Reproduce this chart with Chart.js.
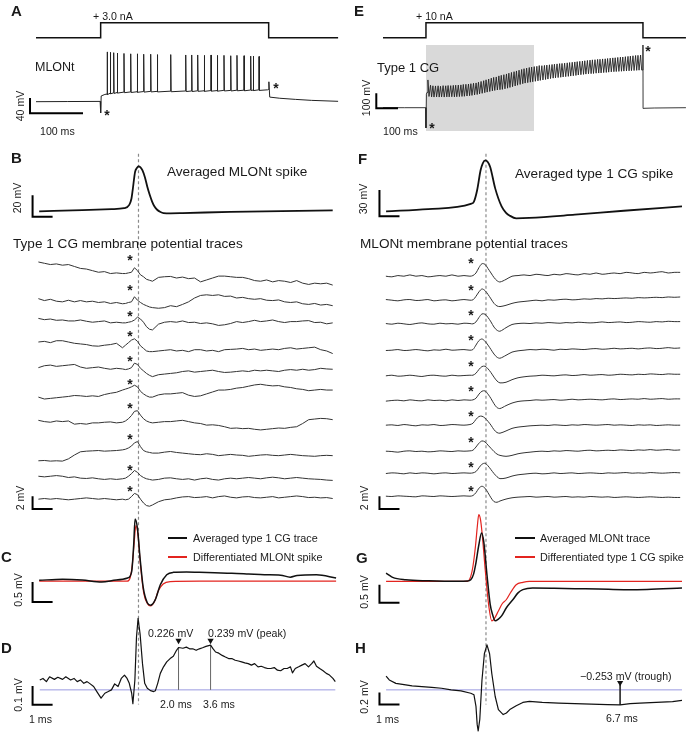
<!DOCTYPE html>
<html><head><meta charset="utf-8">
<script src="https://cdn.jsdelivr.net/npm/chart.js@4.4.1/dist/chart.umd.min.js"></script>
<style>
html,body{margin:0;padding:0;background:#fff;}
#fig{position:relative;width:686px;height:736px;overflow:hidden;font-family:"Liberation Sans",Arial,Helvetica,sans-serif;color:#1a1a1a;}
#fig canvas{position:absolute;}
.t{position:absolute;white-space:nowrap;line-height:1;}
.sw{position:absolute;height:2px;}
</style></head><body><div id="fig">
<canvas id="cA"></canvas><canvas id="cE"></canvas><canvas id="cL"></canvas><canvas id="cR"></canvas>
</div>
<script>
// ===================== DATA =====================
// Panel A: current step (ms, nA) and MLONt membrane potential (ms, mV)
const aStimT = [0, 122, 122, 439, 439, 570];
const aStimI = [0, 0, 3, 3, 0, 0];
const aPreT = [0, 60, 121, 122, 123, 130, 134];
const aPreV = [-65, -64.6, -64.2, -94.5, -50, -46, -45];
const aSpikeT = [134.5, 140.2, 146.6, 153.4, 166, 178.7, 191.1, 203.2, 216.4, 228.9, 254.2, 282.5, 293.8, 305.1, 317.5, 330.2, 342.1, 354.7, 367.4, 379.2, 392.5, 405.1, 410, 420.8];
const aSpikePeak = [65, 64, 63, 62, 61, 60, 60, 59, 59, 58, 58, 57, 57, 57, 56, 57, 56, 56, 55, 56, 55, 54, 54, 53];
const aSpikeBase = [-45, -43, -42, -41, -40, -39.5, -39, -38.5, -38, -38, -37.5, -37, -37, -36.5, -36.5, -36, -36, -35.5, -35.5, -35, -35, -34.5, -34.5, -34];
const aPostT = [437, 439, 439.4, 441, 460, 490, 520, 570];
const aPostV = [-34, -33, -13, -53, -56, -59, -61.5, -64];

// Panel E: current step (ms, nA) and type 1 CG membrane potential (ms, mV)
const eStimT = [0, 198, 198, 1198, 1198, 1396];
const eStimI = [0, 0, 10, 10, 0, 0];
const eShadeT = [198, 696];
const ePreT = [0, 100, 197, 198, 200, 203];
const ePreV = [-60, -60, -60, -195, 30, 42];
const eSpikeT = [207,219,230,242,254,265,277,289,300,312,324,335,347,359,370,382,394,405,417,429,440,452,464,475,487,499,510,522,534,545,557,569,580,592,604,615,627,639,650,662,674,685,697,709,720,732,744,755,767,779,790,802,814,825,837,849,860,872,884,895,907,919,930,942,954,965,977,989,1000,1012,1024,1035,1047,1059,1070,1082,1094,1105,1117,1129,1140,1152,1164,1175,1187];
const ePeak = [125,90,86,85,86,83,87,86,88,87,89,90,91,92,95,96,98,100,103,105,110,115,120,126,131,137,142,145,152,156,160,165,170,175,180,185,190,195,200,204,208,211,214,216,221,220,222,224,226,228,230,232,234,235,237,239,241,243,245,247,249,251,253,255,257,259,260,262,263,265,266,268,270,272,273,275,277,278,280,282,284,286,288,289,291];
const eBase = [15,12,11,12,11,12,11,12,12,13,12,13,14,15,16,18,20,22,25,28,32,36,40,44,48,52,55,58,60,62,66,70,75,80,85,90,95,100,104,107,110,113,116,119,122,125,128,131,134,137,139,141,143,145,147,149,151,153,155,158,160,162,164,166,167,168,170,171,172,174,175,177,179,180,181,182,183,184,185,186,187,188,189,190,191];
const ePostT = [1195, 1198, 1198.5, 1202, 1250, 1396];
const ePostV = [191, 358, -65, -64, -62, -60];

// Panel B: averaged MLONt spike (ms from spike, mV)
const bT = [-4.96, -2.8, -1.35, -0.72, -0.46, -0.35, -0.29, -0.17, -0.08, 0, 0.1, 0.2, 0.32, 0.44, 0.56, 0.68, 0.8, 0.93, 1.1, 1.25, 1.6, 2.2, 4.6, 9.7];
const bV = [-60, -58.8, -57.9, -57.0, -53.9, -48, -40.1, -23.1, -19.5, -18.0, -18.8, -21.6, -28, -37, -44.5, -50.8, -55.5, -58.5, -60.6, -61.6, -61.8, -61.6, -60.4, -59.1];

// Panel F: averaged type 1 CG spike
const fT = [-4.99, -2.89, -0.76, -0.6, -0.44, -0.27, -0.16, -0.03, 0.08, 0.21, 0.46, 0.78, 0.99, 1.19, 1.51, 2.17, 4.44, 6.88, 9.79];
const fV = [-60, -57.4, -51.5, -48.8, -35.7, -13.2, -5.2, -2.0, -3.5, -9.4, -33.8, -54.4, -61.3, -64.9, -67.9, -67.5, -63.8, -59.3, -54.4];

// Single-sweep traces (ms from spike; mV relative to each trace's baseline)
const traceT = [-5.0,-4.7,-4.4,-4.1,-3.8,-3.5,-3.2,-2.9,-2.6,-2.3,-2.0,-1.7,-1.4,-1.1,-0.8,-0.65,-0.5,-0.35,-0.2,-0.05,0.1,0.25,0.4,0.55,0.7,1.0,1.3,1.6,1.9,2.2,2.5,2.8,3.1,3.4,3.7,4.0,4.3,4.6,4.9,5.2,5.5,5.8,6.1,6.4,6.7,7.0,7.3,7.6,7.9,8.2,8.5,8.8,9.1,9.4,9.7];
// Type 1 CG membrane potential traces (left)
const cgTrace1 = [1.6,1.4,1.2,1.3,1.1,1.2,0.9,0.6,0.5,0.25,0,0.1,-0.2,-0.1,-0.2, -0.2,-0.1,0,0.7,0.25,-0.4,-0.7,-1.1,-1.25,-1.4, -0.8,-0.7,-0.65,-0.9,-0.75,-1.0,-0.9,-1.5,-1.2,-0.9,-0.6,-0.6,-0.7,-0.8,-0.8,-1.0,-1.3,-1.4,-1.2,-1.5,-1.3,-1.4,-1.6,-1.3,-1.7,-1.9,-1.7,-1.8,-1.7,-2.0];
const cgTrace2 = [0.5,0.2,0.4,0.1,0,0.25,0,0.2,0,0.1,-0.1,0,-0.25,-0.1,-0.3, -0.25,-0.1,0,0.8,0.25,-0.1,-0.4,-0.6,-0.8,-0.9, -1.0,-0.9,-0.6,-0.75,-0.4,0,0.6,1.0,1.1,1.0,1.1,0.85,0.9,0.6,0.7,0.5,0.4,0.5,0.25,0.2,0.3,0,-0.1,0,-0.3,-0.4,-0.25,-0.5,-0.4,-0.6];
const cgTrace3 = [0.5,0.3,0.4,0.2,0.25,0.1,0.1,0.25,0.05,-0.1,0,0.1,-0.2,-0.1,-0.2, -0.2,-0.1,0,0.25,0.7,0.4,-0.1,-0.8,-1.2,-1.3, -0.4,-0.1,0,-0.1,0.1,-0.15,-0.1,-0.3,-0.2,-0.35,-0.6,-0.5,-0.3,0,-0.15,0,0.2,0,0.1,0.25,0,-0.15,0,0,0.1,0.15,-0.15,-0.1,-0.35,-0.2];
const cgTrace4 = [0.4,0.5,0.3,0.6,0.6,0.4,0.2,0.1,0,-0.2,-0.25,-0.1,0,0.2,-0.5, -0.1,0.3,0.7,0.9,0.5,-0.2,-0.6,-1.0,-1.1,-1.1, -1.0,-0.9,-0.8,-1.0,-0.9,-1.1,-0.8,-0.8,-1.0,-0.9,-1.1,-0.8,-0.75,-0.7,-0.6,-0.8,-0.7,-0.9,-0.8,-0.7,-0.8,-0.6,-0.5,-0.7,-0.6,-0.5,-0.4,-0.8,-1.0,-1.4];
const cgTrace5 = [0,0.3,0.4,0.2,0.3,0.4,0.5,0.1,-0.1,0,0.1,-0.1,-0.25,-0.1,-0.2, -0.3,-0.2,0,0.7,0.5,-0.1,-0.5,-0.9,-1.2,-1.4, -1.1,-1.0,-0.9,-0.8,-0.6,-0.5,-0.7,-0.6,-0.5,-0.4,-0.6,-0.75,-0.7,-0.6,-0.5,-0.6,-0.4,-0.5,-0.4,-0.5,-0.6,-0.4,-0.3,-0.4,-0.25,-0.4,-0.3,-0.1,-0.2,-0.25];
const cgTrace6 = [-0.5,-0.8,-0.7,-0.6,-0.5,-0.4,-0.25,-0.3,-0.4,-0.3,-0.4,-0.1,0.1,0.25,0.6, 0.75,0.9,1.1,1.35,1.1,0.4,0,-0.3,-0.5,-0.5, -0.15,0,0,0.1,0.2,-0.2,-0.4,-0.3,0,0.3,0.6,0.6,0.7,0.9,1.0,1.2,1.4,1.5,1.35,1.25,1.3,1.1,1.0,0.8,0.7,0.5,0.6,0.7,0.6,0.6];
const cgTrace7 = [0.25,0.05,-0.05,0.15,0.05,0.15,-0.35,-0.25,-0.35,-0.15,-0.15,-0.05,0,-0.15,-0.05, 0.15,0.5,1.0,1.65,1.75,1.05,0.5,0.15,-0.05,-0.15, -0.05,0.05,0.05,0.15,0.25,0.05,-0.15,-0.25,-0.5,-0.45,-0.55,-0.75,-1.0,-0.95,-1.05,-1.0,-1.15,-1.25,-1.15,-1.05,-0.95,-1.0,-0.85,-0.75,-0.25,0.35,0.45,0.55,0.5,0.35];
const cgTrace8 = [-1.2,-1.15,-1.25,-1.2,-1.25,-0.9,-0.3,0.2,0.3,0.35,0.4,0.3,0.35,0.4,0.5, 0.6,0.8,1.1,1.6,1.8,1.0,0.4,0.2,0.1,0, 0,0.15,0.25,0.1,0,-0.1,-0.2,-0.25,-0.1,-0.2,-0.4,-0.3,-0.2,-0.3,-0.35,-0.5,-0.4,-0.3,-0.25,-0.35,-0.4,-0.3,-0.2,-0.3,-0.4,-0.45,-0.5,-0.4,-0.35,-0.4];
const cgTrace9 = [0.3,0.2,0.3,0.4,0.3,0.1,0.2,0,-0.05,0.05,-0.1,-0.2,-0.1,-0.2,-0.1, 0,0.3,0.7,1.2,0.9,0.4,0.1,-0.1,-0.2,-0.3, -0.2,0,0.05,-0.1,-0.2,-0.1,-0.3,-0.1,0,-0.2,-0.3,-0.1,0,-0.1,0,0.1,0,-0.1,0.05,0.15,0.05,-0.1,0,0.1,0,-0.1,-0.15,-0.2,-0.3,-0.35];
const cgTrace10 = [0,0.1,0,0.1,0,-0.1,0,0.1,0.2,0.1,0,0.1,0,-0.1,0, -0.1,0,0.4,0.9,0.7,0,-0.6,-1.0,-1.1,-0.9, -0.4,-0.1,0,0.2,0.35,0.4,0.25,0.3,0.4,0.2,0.4,0.5,0.3,0.2,0.35,0.4,0.25,0.2,0.3,0.4,0.2,0.3,0.4,0.5,0.4,0.25,0.3,0.2,0.25,0.1];
// MLONt membrane potential traces (right)
const mlTrace1 = [0,-0.1,0.1,0,0.2,0,0.1,-0.1,0,0.1,0,0.2,0,0.1,0, 0.1,0.5,1.35,1.95,1.85,1.2,0.5,-0.2,-0.7,-0.9, -0.5,0,0.1,0.2,0.1,0.3,0.2,0.1,0.3,0.2,0.4,0.3,0.2,0.4,0.3,0.5,0.3,0.4,0.5,0.4,0.6,0.5,0.4,0.6,0.5,0.6,0.7,0.5,0.6,0.6];
const mlTrace2 = [0.1,0,-0.1,0.05,0.1,-0.05,0,0.1,-0.1,0,0.05,-0.1,0,0.1,0, 0.05,0.6,1.3,1.75,1.5,0.9,0.2,-0.5,-0.9,-1.0, -0.8,-0.5,-0.3,-0.2,-0.1,0,-0.1,0.05,0,0.1,0.15,0.05,0.1,0.2,0.15,0.25,0.2,0.3,0.25,0.3,0.35,0.3,0.4,0.35,0.4,0.45,0.4,0.5,0.45,0.5];
const mlTrace3 = [0.05,-0.05,0.1,0,-0.1,0.05,0.15,0,-0.05,0.1,0,0.05,-0.05,0.1,0.05, 0,0.3,1.0,1.55,1.5,1.0,0.3,-0.5,-1.0,-1.15, -0.6,-0.1,0.05,0.1,0.05,0.15,0.1,0.2,0.15,0.1,0.2,0.15,0.25,0.2,0.15,0.2,0.3,0.2,0.25,0.3,0.2,0.25,0.35,0.3,0.25,0.35,0.3,0.4,0.35,0.35];
const mlTrace4 = [-0.05,0,0.1,-0.05,0,0.1,0,-0.1,0.05,0,0.15,0,0.05,0.1,0, 0.1,0.8,1.5,1.75,1.4,0.8,0.1,-0.6,-1.1,-1.25, -0.8,-0.3,-0.1,0,0.1,0.05,0.15,0.1,0,0.15,0.1,0.2,0.15,0.1,0.2,0.25,0.15,0.2,0.3,0.2,0.25,0.3,0.2,0.3,0.35,0.25,0.3,0.4,0.3,0.35];
const mlTrace5 = [0,0.1,-0.05,0,0.1,0,-0.1,0.05,0.1,0,-0.05,0.1,0,0.05,0.1, 0.1,0.4,1.0,1.45,1.5,1.1,0.5,-0.2,-0.8,-1.1, -1.0,-0.6,-0.3,-0.15,-0.05,0,0.1,0.05,0,0.1,0.15,0.05,0.1,0.2,0.1,0.15,0.2,0.1,0.15,0.25,0.2,0.15,0.25,0.2,0.3,0.25,0.2,0.3,0.25,0.25];
const mlTrace6 = [-0.1,0,0.05,-0.05,0.1,0,-0.05,0.1,0,0.05,-0.05,0.1,0,0.1,0.05, 0.1,0.35,1.0,1.45,1.5,1.0,0.3,-0.5,-1.1,-1.25, -0.8,-0.4,-0.15,-0.05,0,0.1,0.05,0.1,0.15,0.05,0.1,0.2,0.1,0.15,0.2,0.15,0.1,0.2,0.25,0.15,0.2,0.25,0.2,0.3,0.2,0.25,0.3,0.2,0.25,0.25];
const mlTrace7 = [0,0.05,-0.05,0.1,0,-0.1,0.05,0,0.1,-0.05,0,0.1,0.05,0,0.1, 0.3,0.9,1.35,1.4,1.1,0.6,0,-0.7,-1.15,-1.25, -0.9,-0.5,-0.3,-0.2,-0.1,-0.05,0,-0.05,0.05,0,-0.05,0.05,0,0.1,0.05,0,0.05,0.1,0,0.05,0,-0.05,0.05,0,0.05,-0.05,0,0.05,0,0];
const mlTrace8 = [0.05,0,-0.1,0.05,0.1,0,0.05,-0.05,0,0.1,0.05,0,0.1,0.05,0.1, 0.2,0.7,1.3,1.65,1.5,1.0,0.5,0,-0.4,-0.6, -0.75,-0.6,-0.35,-0.2,-0.1,0,0.05,0,0.1,0.05,0.15,0.1,0.05,0.15,0.2,0.1,0.15,0.2,0.15,0.25,0.2,0.15,0.25,0.2,0.3,0.2,0.25,0.3,0.2,0.25];
const mlTrace9 = [0,0.1,0.05,-0.05,0.1,0,0.1,0.05,-0.05,0.05,0.1,0,0.05,0.1,0.05, 0.1,0.3,0.9,1.45,1.6,1.2,0.6,0,-0.5,-0.8, -0.7,-0.4,-0.2,-0.1,0,0.05,-0.05,0,0.1,0,0.05,0.1,0,0.05,0.1,0.05,0,0.1,0.05,0.1,0.15,0.05,0.1,0.05,0.15,0.1,0.05,0.1,0.15,0.1];
const mlTrace10 = [0.05,0,0.1,0.05,0,-0.05,0.1,0.05,0,0.1,0.05,0,0.05,0.1,0.05, 0.15,0.6,1.3,1.6,1.3,0.6,-0.2,-0.8,-0.9,-0.7, -0.4,-0.2,-0.1,-0.05,0,-0.1,-0.05,0,-0.1,-0.05,0,-0.1,-0.05,-0.1,0,-0.05,-0.1,-0.05,-0.15,-0.1,-0.05,-0.1,-0.15,-0.1,-0.05,-0.1,-0.15,-0.1,-0.15,-0.15];

// Panel C (ms, mV)
const cT = [-4.96,-3.79,-2.81,-1.84,-1.11,-0.54,-0.34,-0.24,-0.17,-0.05,0.08,0.24,0.44,0.6,0.84,1.09,1.41,1.74,2.4,3.04,3.8,4.66,5.5,6.29,7.1,7.58,7.92,8.89,9.87];
const cAvgCG = [0,0.03,0.01,-0.04,0.01,0.06,0.22,0.88,1.53,1.29,0.55,-0.19,-0.56,-0.62,-0.48,-0.11,0.14,0.2,0.21,0.2,0.19,0.18,0.16,0.14,0.13,0.08,0.12,0.14,0.06];
const cDiffT = [-4.96,-0.57,-0.42,-0.3,-0.2,-0.13,-0.03,0.09,0.26,0.45,0.6,0.8,0.99,1.23,1.58,3.04,9.87];
const cDiffMLONt = [-0.02,-0.02,0.06,0.43,1.04,1.37,1.16,0.43,-0.31,-0.58,-0.64,-0.53,-0.26,-0.09,-0.03,-0.02,-0.02];

// Panel D: difference trace (ms, mV)
const dT = [-4.93,-4.77,-4.6,-4.44,-4.2,-4.03,-3.79,-3.63,-3.39,-3.22,-3.06,-2.9,-2.73,-2.57,-2.41,-2.24,-2.08,-1.87,-1.68,-1.51,-1.35,-1.19,-1.02,-0.86,-0.7,-0.57,-0.46,-0.34,-0.28,-0.18,-0.1,-0.02,0.08,0.2,0.31,0.44,0.6,0.76,0.84,0.96,1.09,1.25,1.41,1.58,1.74,1.9,2.0,2.22,2.39,2.55,2.71,2.88,3.04,3.2,3.37,3.6,3.72,3.85,4.01,4.18,4.34,4.5,4.66,4.83,4.99,5.15,5.31,5.48,5.64,5.8,5.97,6.13,6.29,6.45,6.61,6.78,6.94,7.1,7.27,7.43,7.59,7.69,7.83,8.0,8.16,8.32,8.49,8.65,8.76,8.89,9.05,9.22,9.38,9.54,9.71,9.83];
const dV = [0.053,0.061,0.044,0.070,0.056,0.067,0.056,0.070,0.053,0.061,0.044,0.053,0.035,0.044,0.032,0.018,-0.009,-0.044,-0.018,-0.009,0,0.032,0.018,0.061,0.079,0.061,0.035,-0.018,-0.074,0.053,0.281,0.382,0.298,0.14,0.035,0.009,-0.004,-0.009,-0.005,0.035,0.088,0.123,0.149,0.167,0.179,0.211,0.226,0.222,0.228,0.219,0.219,0.211,0.219,0.225,0.232,0.239,0.22,0.202,0.196,0.184,0.175,0.167,0.167,0.158,0.154,0.149,0.144,0.14,0.132,0.14,0.123,0.126,0.119,0.114,0.114,0.119,0.105,0.102,0.114,0.114,0.123,0.091,0.114,0.123,0.132,0.14,0.123,0.14,0.154,0.126,0.114,0.102,0.088,0.079,0.061,0.044];
const dMarkT = [2.0, 3.6];
const dMarkV = [0.226, 0.239];

// Panel G (ms, mV)
const gT = [-4.99,-4.84,-4.66,-4.01,-2.88,-1.41,-0.94,-0.76,-0.62,-0.52,-0.36,-0.22,-0.11,0.05,0.21,0.33,0.46,0.62,0.78,1.02,1.35,1.6,1.84,2.33,3.4,4.44,5.6,6.88,8.04,9.79];
const gAvgML = [0.227,0.172,0.109,0.044,0.016,0,0.008,0.044,0.2,0.454,1.0,1.339,1.093,0.18,-0.639,-0.92,-1.093,-1.044,-0.956,-0.73,-0.503,-0.32,-0.23,-0.183,-0.19,-0.202,-0.21,-0.23,-0.224,-0.183];
const gDiffT = [-4.99,-0.94,-0.76,-0.65,-0.52,-0.43,-0.36,-0.28,-0.2,-0.03,0.13,0.29,0.42,0.62,0.81,1.02,1.25,1.51,1.84,2.17,9.79];
const gDiffCG = [0,0,0.137,0.418,1.0,1.538,1.847,1.73,1.366,0.273,-0.639,-1.093,-1.03,-0.82,-0.62,-0.503,-0.29,-0.093,-0.027,0,0];

// Panel H: difference trace (ms, mV)
const hT = [-4.99,-4.83,-4.5,-4.01,-3.69,-3.2,-2.71,-2.22,-1.74,-1.25,-0.76,-0.6,-0.5,-0.44,-0.39,-0.31,-0.2,-0.08,0.05,0.18,0.29,0.46,0.62,0.86,1.02,1.19,1.51,1.84,2.17,2.81,3.63,4.44,5.25,6.07,6.7,7.2,7.69,8.5,9.32,9.79];
const hV = [0.233,0.167,0.11,0.083,0.067,0.055,0.043,0.027,0,-0.017,-0.057,-0.083,-0.278,-0.583,-0.695,-0.5,0.167,0.61,0.76,0.61,0.277,-0.112,-0.333,-0.417,-0.39,-0.333,-0.267,-0.212,-0.195,-0.212,-0.223,-0.233,-0.24,-0.25,-0.253,-0.233,-0.223,-0.212,-0.2,-0.178];
const hMarkT = [6.7];
const hMarkV = [-0.253];

// ===================== LAYOUT (page pixels) =====================
const L = {
  A: {left:0, top:0, w:343, h:140, t0px:36, pxPerMs:0.53, iZeroPx:37.7, pxPerNA:5, vRef:-65, vRefPx:101.7, pxPerMV:0.383},
  E: {left:343, top:0, w:343, h:140, t0px:383, pxPerMs:0.217, iZeroPx:37.7, pxPerNA:1.5, vRef:-60, vRefPx:107.7, pxPerMV:0.15},
  left: {left:0, top:140, w:343, h:596, spikePx:137.7, pxPerMs:20.5,
    spikeRefPx:208.3, spikePxPerMV:1.085,
    traceY:[270,300,320,343.3,366.7,393.3,421.7,453.3,478.7,500], tracePxPerMV:6.5,
    cZero:582.3, cPxPerMV:40.6, dZero:693.3, dPxPerMV:190},
  right: {left:343, top:140, w:343, h:596, spikePx:485.3, pxPerMs:20.5,
    spikeRefPx:208.3, spikePxPerMV:0.89,
    traceY:[274,298.3,322.3,349,375,400,425,451.7,474,497.3], tracePxPerMV:6.5,
    cZero:583.3, cPxPerMV:36.6, dZero:693.3, dPxPerMV:60}
};
const FONT_SM = 10.6;
const FONT_LEG = 10.8;
const FONT_TITLE = 13.6;
const FONT_LETTER = 15;
const RED = '#e3241f';

// ===================== HELPERS =====================
const fig = document.getElementById('fig');
function pts(xs, ys){ return xs.map((x,i)=>({x:x, y:ys[i]})); }
function xr(refVal, refPx, ppu, left, width){ const p = refPx-left; return {min: refVal - p/ppu, max: refVal + (width-p)/ppu}; }
function yr(refVal, refPx, ppu, top, height){ const p = refPx-top; return {min: refVal - (height-p)/ppu, max: refVal + p/ppu}; }
function hid(r, extra){ return Object.assign({type:'linear', display:false}, r, extra||{}); }
function ln(data, yAxisID, color, width, extra){
  return Object.assign({data:data, yAxisID:yAxisID, xAxisID:'x', borderColor:color, borderWidth:width,
    pointRadius:0, fill:false, tension:0, order:2, borderJoinStyle:'round'}, extra||{});
}
function bar(x0, dx, y0, dy, axis){ // L-shaped scale bar in data units
  return ln([{x:x0,y:y0+dy},{x:x0,y:y0},{x:x0+dx,y:y0}], axis, '#000', 2, {borderJoinStyle:'miter', borderCapStyle:'butt', order:1});
}
function tri(xs, ys, axis){
  return {data: pts(xs, ys), yAxisID:axis, xAxisID:'x', showLine:false, pointStyle:'triangle', pointRadius:3.6,
    pointRotation:180, pointBackgroundColor:'#111', pointBorderWidth:0, order:0};
}
function make(id, box, datasets, scales){
  const cv = document.getElementById(id);
  cv.width = box.w; cv.height = box.h;
  cv.style.left = box.left+'px'; cv.style.top = box.top+'px';
  cv.style.width = box.w+'px'; cv.style.height = box.h+'px';
  return new Chart(cv, {type:'line', data:{datasets:datasets},
    options:{responsive:false, animation:false, devicePixelRatio:1, events:[],
      layout:{padding:0}, plugins:{legend:{display:false}, tooltip:{enabled:false}},
      scales:scales}});
}
function txt(s, x, base, size, bold, color){
  const d = document.createElement('div'); d.className='t'; d.textContent=s;
  d.style.fontSize=size+'px'; d.style.left=x+'px'; d.style.top=(base-0.8465*size)+'px';
  if(bold) d.style.fontWeight='bold';
  if(color) d.style.color=color;
  fig.appendChild(d); return d;
}
function rtxt(s, cx, cy, size){
  const d = document.createElement('div'); d.className='t'; d.textContent=s; d.style.fontSize=size+'px';
  d.style.left=cx+'px'; d.style.top=cy+'px';
  d.style.transform='translate(-50%,-50%) rotate(-90deg)';
  fig.appendChild(d);
}
function star(cx, cy){
  const s = 14;
  const d = txt('*', cx, cy+0.57*s, s, true);
  d.style.transform='translateX(-50%)';
}
function swatch(x, y, w, color){
  const d = document.createElement('div'); d.className='sw';
  d.style.left=x+'px'; d.style.top=Math.round(y-1)+'px'; d.style.width=w+'px';
  d.style.background=color; fig.appendChild(d);
}

// ===================== PANEL A =====================
(function(){
  const b = L.A;
  const trace = pts(aPreT, aPreV);
  aSpikeT.forEach((t,i)=>{
    trace.push({x:t-0.4, y:aSpikeBase[i]});
    trace.push({x:t, y:aSpikePeak[i]});
    trace.push({x:t+0.8, y:aSpikeBase[i]-1.5});
  });
  trace.push(...pts(aPostT, aPostV));
  make('cA', b, [
    ln(pts(aStimT, aStimI), 'yI', '#111', 1.5, {borderJoinStyle:'miter'}),
    ln(trace, 'yV', '#222', 1),
    bar(-11.3, 100, -95.3, 40, 'yV')
  ], {
    x: hid(xr(0, b.t0px, b.pxPerMs, b.left, b.w)),
    yI: hid(yr(0, b.iZeroPx, b.pxPerNA, b.top, b.h)),
    yV: hid(yr(b.vRef, b.vRefPx, b.pxPerMV, b.top, b.h))
  });
})();

// ===================== PANEL E =====================
(function(){
  const b = L.E;
  const trace = pts(ePreT, ePreV);
  eSpikeT.forEach((t,i)=>{
    trace.push({x:t, y:ePeak[i]});
    trace.push({x:t+5, y:eBase[i]});
  });
  trace.push(...pts(ePostT, ePostV));
  make('cE', b, [
    {data:[{x:eShadeT[0],y:358},{x:eShadeT[1],y:358}], yAxisID:'yV', xAxisID:'x', borderWidth:0,
      pointRadius:0, fill:{value:-215}, backgroundColor:'#d9d9d9', order:10},
    ln(pts(eStimT, eStimI), 'yI', '#111', 1.5, {borderJoinStyle:'miter'}),
    ln(trace, 'yV', '#222', 0.9),
    bar(-30.9, 100, -64, 100, 'yV')
  ], {
    x: hid(xr(0, b.t0px, b.pxPerMs, b.left, b.w)),
    yI: hid(yr(0, b.iZeroPx, b.pxPerNA, b.top, b.h)),
    yV: hid(yr(b.vRef, b.vRefPx, b.pxPerMV, b.top, b.h))
  });
})();

// ===================== LEFT COLUMN (B, traces, C, D) =====================
(function(){
  const b = L.left;
  const traces = [cgTrace1,cgTrace2,cgTrace3,cgTrace4,cgTrace5,cgTrace6,cgTrace7,cgTrace8,cgTrace9,cgTrace10];
  const scales = {
    x: hid(xr(0, b.spikePx, b.pxPerMs, b.left, b.w)),
    yB: hid(yr(-60, b.spikeRefPx, b.spikePxPerMV, b.top, b.h)),
    yC: hid(yr(0, b.cZero, b.cPxPerMV, b.top, b.h)),
    yD: hid(yr(0, b.dZero, b.dPxPerMV, b.top, b.h)),
    yP: hid({min:b.top, max:b.top+b.h}, {reverse:true})
  };
  const ds = [];
  ds.push(ln([{x:0,y:150},{x:0,y:708}], 'yP', '#8a8a8a', 1.2, {borderDash:[3,2.5], order:5}));
  ds.push(ln(pts(bT, bV), 'yB', '#111', 1.8, {cubicInterpolationMode:'monotone'}));
  ds.push(bar(-5.29, 1, -65, 20, 'yB'));
  traces.forEach((v,i)=>{
    scales['yL'+i] = hid(yr(0, b.traceY[i], b.tracePxPerMV, b.top, b.h));
    ds.push(ln(pts(traceT, v), 'yL'+i, '#333', 1));
  });
  ds.push(bar(-5.29, 1, -1.54, 2, 'yL9'));
  ds.push(ln(pts(cDiffT, cDiffMLONt), 'yC', RED, 1.2, {cubicInterpolationMode:'monotone', order:3}));
  ds.push(ln(pts(cT, cAvgCG), 'yC', '#111', 1.5, {cubicInterpolationMode:'monotone'}));
  ds.push(bar(-5.29, 1, -0.54, 0.5, 'yC'));
  ds.push(ln([{x:dT[0],y:0},{x:dT[dT.length-1],y:0}], 'yD', '#9a9ae0', 1, {order:4}));
  dMarkT.forEach((t,i)=> ds.push(ln([{x:t,y:0},{x:t,y:dMarkV[i]}], 'yD', '#666', 1, {order:3})));
  ds.push(ln(pts(dT, dV), 'yD', '#111', 1.2));
  ds.push(tri(dMarkT, [0.263,0.263], 'yD'));
  ds.push(bar(-5.29, 1, -0.079, 0.1, 'yD'));
  make('cL', b, ds, scales);
})();

// ===================== RIGHT COLUMN (F, traces, G, H) =====================
(function(){
  const b = L.right;
  const traces = [mlTrace1,mlTrace2,mlTrace3,mlTrace4,mlTrace5,mlTrace6,mlTrace7,mlTrace8,mlTrace9,mlTrace10];
  const scales = {
    x: hid(xr(0, b.spikePx, b.pxPerMs, b.left, b.w)),
    yF: hid(yr(-60, b.spikeRefPx, b.spikePxPerMV, b.top, b.h)),
    yG: hid(yr(0, b.cZero, b.cPxPerMV, b.top, b.h)),
    yH: hid(yr(0, b.dZero, b.dPxPerMV, b.top, b.h)),
    yP: hid({min:b.top, max:b.top+b.h}, {reverse:true})
  };
  const ds = [];
  ds.push(ln([{x:0,y:150},{x:0,y:708}], 'yP', '#8a8a8a', 1.2, {borderDash:[3,2.5], order:5}));
  ds.push(ln(pts(fT, fV), 'yF', '#111', 1.8, {cubicInterpolationMode:'monotone'}));
  ds.push(bar(-5.32, 1, -65.6, 30, 'yF'));
  traces.forEach((v,i)=>{
    scales['yR'+i] = hid(yr(0, b.traceY[i], b.tracePxPerMV, b.top, b.h));
    ds.push(ln(pts(traceT, v), 'yR'+i, '#333', 1, {tension:0.3}));
  });
  ds.push(bar(-5.32, 1, -1.95, 2, 'yR9'));
  ds.push(ln(pts(gDiffT, gDiffCG), 'yG', RED, 1.2, {cubicInterpolationMode:'monotone', order:3}));
  ds.push(ln(pts(gT, gAvgML), 'yG', '#111', 1.5, {cubicInterpolationMode:'monotone'}));
  ds.push(bar(-5.32, 1, -0.593, 0.5, 'yG'));
  ds.push(ln([{x:hT[0],y:0},{x:hT[hT.length-1],y:0}], 'yH', '#9a9ae0', 1, {order:4}));
  ds.push(ln([{x:hMarkT[0],y:0.088},{x:hMarkT[0],y:hMarkV[0]}], 'yH', '#333', 1, {order:3}));
  ds.push(ln(pts(hT, hV), 'yH', '#111', 1.2));
  ds.push(tri(hMarkT, [0.12], 'yH'));
  ds.push(bar(-5.32, 1, -0.245, 0.2, 'yH'));
  make('cR', b, ds, scales);
})();

// ===================== TEXT =====================
txt('A', 11, 16, FONT_LETTER, true); txt('E', 354, 16, FONT_LETTER, true);
txt('B', 11, 163, FONT_LETTER, true); txt('F', 358, 164, FONT_LETTER, true);
txt('C', 1, 562, FONT_LETTER, true); txt('G', 356, 563, FONT_LETTER, true);
txt('D', 1, 653, FONT_LETTER, true); txt('H', 355, 653, FONT_LETTER, true);
txt('+ 3.0 nA', 93, 20, FONT_SM); txt('+ 10 nA', 416, 20, FONT_SM);
txt('MLONt', 35, 72, 12.5); txt('Type 1 CG', 377, 72, 13);
txt('100 ms', 40, 135, FONT_SM); txt('100 ms', 383, 135, FONT_SM);
rtxt('40 mV', 20, 106, FONT_SM); rtxt('100 mV', 365.5, 98, FONT_SM);
txt('Averaged MLONt spike', 167, 177, FONT_TITLE); txt('Averaged type 1 CG spike', 515, 179, FONT_TITLE);
rtxt('20 mV', 17, 198, FONT_SM); rtxt('30 mV', 363, 199, FONT_SM);
txt('Type 1 CG membrane potential traces', 13, 249, FONT_TITLE);
txt('MLONt membrane potential traces', 360, 249, FONT_TITLE);
rtxt('2 mV', 20, 498, FONT_SM); rtxt('2 mV', 364, 498, FONT_SM);
swatch(168, 538, 19, '#111'); txt('Averaged type 1 CG trace', 193, 542, FONT_LEG);
swatch(168, 557, 19, RED); txt('Differentiated MLONt spike', 193, 561, FONT_LEG);
swatch(515, 538, 20, '#111'); txt('Averaged MLONt trace', 540, 542, FONT_LEG);
swatch(515, 557, 20, RED); txt('Differentiated type 1 CG spike', 540, 561, FONT_LEG);
rtxt('0.5 mV', 18, 590, FONT_SM); rtxt('0.5 mV', 364, 592, FONT_SM);
txt('0.226 mV', 148, 637, FONT_SM); txt('0.239 mV (peak)', 208, 637, FONT_SM);
txt('2.0 ms', 160, 708, FONT_SM); txt('3.6 ms', 203, 708, FONT_SM);
txt('1 ms', 29, 723, FONT_SM); rtxt('0.1 mV', 18, 695, FONT_SM);
txt('\u22120.253 mV (trough)', 580, 680, FONT_SM); txt('6.7 ms', 606, 722, FONT_SM);
txt('1 ms', 376, 723, FONT_SM); rtxt('0.2 mV', 364, 697, FONT_SM);
// asterisks
star(107, 112); star(276, 85); star(432, 125); star(648, 48);
[257,287,313,333,358,381,405,436,467,488].forEach(y=>star(130, y));
[260,287,312,337,363,388,413,439,464,488].forEach(y=>star(471, y));
</script></body></html>
